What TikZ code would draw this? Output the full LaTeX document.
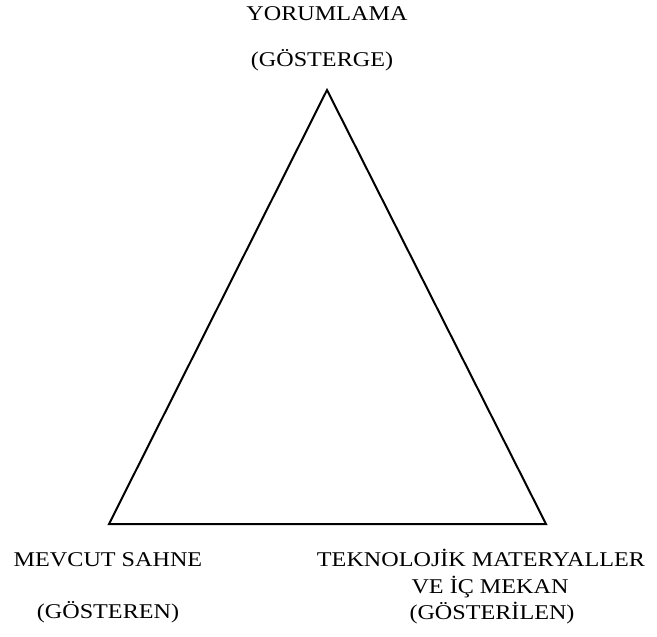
\documentclass[tikz,border=0pt]{standalone}
\usepackage{fontspec}
\usepackage{graphicx}
\setmainfont{Liberation Serif}
\newcommand{\widetxt}[1]{\scalebox{1.15}[1]{#1}}
\begin{document}
\begin{tikzpicture}[x=1pt,y=-1pt,
  lbl/.style={inner sep=0pt,font=\fontsize{21}{25}\selectfont,align=center},
  edge/.style={line width=2pt,line join=miter}]
\useasboundingbox (0,0) rectangle (657,637);
\coordinate (top) at (327,90);
\coordinate (bl) at (109,524);
\coordinate (br) at (546,524);
\draw[edge] (top) -- (bl) -- (br) -- cycle;
\node[lbl] (yor) at (327,14) {\widetxt{YORUMLAMA}};
\node[lbl] (gst) at (322,60) {\widetxt{(GÖSTERGE)}};
\node[lbl] (mev) at (108,560) {\widetxt{MEVCUT SAHNE}};
\node[lbl] (gsn) at (108,612) {\widetxt{(GÖSTEREN)}};
\node[lbl] (tek1) at (481,558) {\widetxt{TEKNOLOJİK MATERYALLER}};
\node[lbl] (tek2) at (490,587) {\widetxt{VE İÇ MEKAN}};
\node[lbl] (gsl) at (492,613) {\widetxt{(GÖSTERİLEN)}};
\end{tikzpicture}
\end{document}
